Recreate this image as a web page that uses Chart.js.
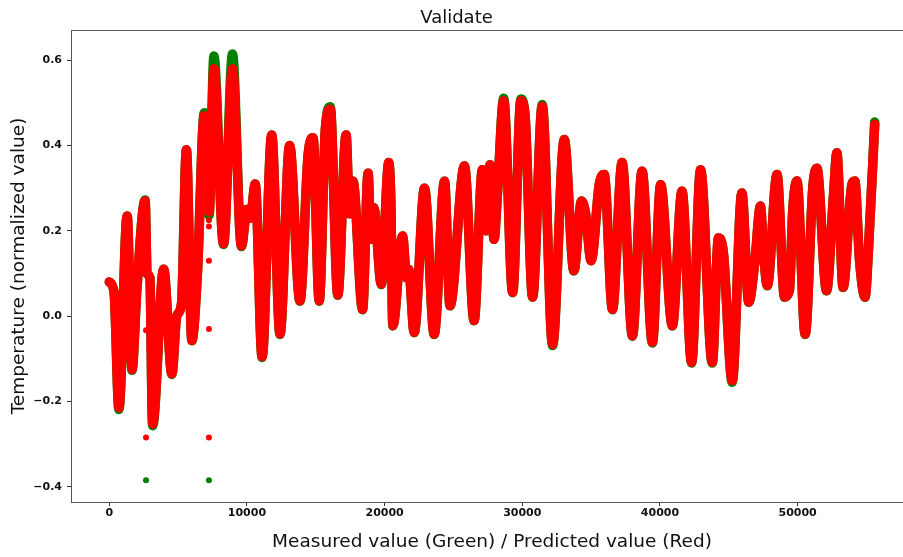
<!DOCTYPE html>
<html>
<head>
<meta charset="utf-8">
<title>Validate</title>
<script src="https://cdn.jsdelivr.net/npm/chart.js@4.4.1/dist/chart.umd.min.js"></script>
<style>
    html, body { margin: 0; padding: 0; background: #fff; overflow: hidden; }
    #wrap { width: 903px; height: 557px; overflow: hidden; }
    canvas { display: block; }
</style>
</head>
<body>
<div id="wrap">
    <canvas id="chart" width="984" height="557"></canvas>
</div>
<script>
// ==========================================
//  Validate - measured vs predicted temperature
// ==========================================

// sample index (x) of the turning points
const sampleIdx = [
    0, 350, 700, 1300, 1650, 2000, 2600, 2750, 2950, 3150,
    3950, 4550, 4900, 5250, 5600, 6000, 6400, 6900, 7250, 7600,
    8300, 8950, 9600, 10000, 10250, 10600, 11100, 11800, 12400, 13100,
    13850, 14450, 14800, 15250, 15700, 16050, 16600, 17200, 17450, 17700,
    18400, 18800, 19000, 19220, 19760, 20300, 20450, 20600, 21300, 21600,
    21750, 22150, 22900, 23600, 24350, 24750, 25800, 26500, 27100, 27350,
    27650, 27950, 28200, 28650, 29300, 29900, 30200, 30750, 31450, 32200,
    33050, 33750, 34300, 34600, 35000, 35600, 35950, 36550, 37250, 38000,
    38700, 39450, 40050, 40900, 41600, 42300, 42950, 43800, 44250, 44600,
    45250, 45950, 46450, 46900, 47300, 47500, 47800, 48500, 49050, 49400,
    49650, 49950, 50550, 51100, 51400, 52100, 52600, 52850, 53300, 53950,
    54150, 54500, 54900, 55150, 55600
];

// measured (green)
const measured = [
    0.08, 0.055, -0.219, 0.235, -0.127, 0.06, 0.272, 0.10, 0.09, -0.257,
    0.11, -0.137, 0.0, 0.03, 0.39, -0.058, 0.10, 0.477, 0.236, 0.61,
    0.168, 0.615, 0.163, 0.25, 0.23, 0.31, -0.097, 0.425, -0.043, 0.40,
    0.035, 0.38, 0.418, 0.035, 0.44, 0.491, 0.049, 0.425, 0.24, 0.316,
    0.015, 0.335, 0.18, 0.254, 0.074, 0.36, 0.27, -0.023, 0.188, 0.09,
    0.11, -0.039, 0.30, -0.043, 0.316, 0.024, 0.352, -0.011, 0.343, 0.20,
    0.355, 0.18, 0.29, 0.511, 0.055, 0.509, 0.47, 0.044, 0.496, -0.069,
    0.414, 0.106, 0.27, 0.24, 0.13, 0.31, 0.332, 0.015, 0.36, -0.047,
    0.34, -0.063, 0.308, -0.023, 0.293, -0.11, 0.343, -0.11, 0.183, 0.15,
    -0.155, 0.289, 0.032, 0.13, 0.258, 0.16, 0.071, 0.332, 0.044, 0.06,
    0.25, 0.317, -0.043, 0.30, 0.347, 0.059, 0.28, 0.383, 0.067, 0.31,
    0.317, 0.13, 0.044, 0.16, 0.455
];

// predicted (red)
const predicted = [
    0.08, 0.055, -0.215, 0.235, -0.125, 0.06, 0.27, 0.10, 0.09, -0.253,
    0.11, -0.135, 0.0, 0.03, 0.39, -0.057, 0.10, 0.47, 0.245, 0.58,
    0.17, 0.58, 0.165, 0.25, 0.23, 0.31, -0.095, 0.425, -0.042, 0.40,
    0.036, 0.38, 0.418, 0.036, 0.44, 0.485, 0.05, 0.425, 0.24, 0.316,
    0.016, 0.335, 0.18, 0.254, 0.075, 0.36, 0.27, -0.022, 0.188, 0.09,
    0.11, -0.038, 0.30, -0.042, 0.316, 0.025, 0.352, -0.01, 0.343, 0.20,
    0.355, 0.18, 0.29, 0.505, 0.056, 0.505, 0.47, 0.045, 0.492, -0.066,
    0.414, 0.107, 0.27, 0.24, 0.13, 0.31, 0.332, 0.016, 0.36, -0.046,
    0.34, -0.061, 0.308, -0.022, 0.293, -0.108, 0.343, -0.108, 0.183, 0.15,
    -0.151, 0.289, 0.033, 0.13, 0.258, 0.16, 0.072, 0.332, 0.045, 0.06,
    0.25, 0.317, -0.042, 0.30, 0.347, 0.06, 0.28, 0.383, 0.068, 0.31,
    0.317, 0.13, 0.045, 0.16, 0.45
];

// isolated samples away from the band
const measuredOutX = [2670, 7240];
const measuredOutY = [-0.385, -0.385];
const predictedOutX = [2670, 2670, 7240, 7240, 7240, 7240, 7240];
const predictedOutY = [-0.285, -0.033, -0.285, -0.03, 0.13, 0.21, 0.225];

// axes
const xTicks = [0, 10000, 20000, 30000, 40000, 50000];
const yTicks = [-0.4, -0.2, 0.0, 0.2, 0.4, 0.6];
const xRange = [-2780, 58380];
const yRange = [-0.436, 0.671];

const GREEN = '#008000';
const RED = '#ff0000';
const FONT = "'DejaVu Sans', 'Liberation Sans', sans-serif";

const toPoints = (xs, ys) => xs.map((x, i) => ({ x: x, y: ys[i] }));

// matplotlib-like box around the plot
const framePlugin = {
    id: 'frame',
    afterDatasetsDraw(chart) {
        const a = chart.chartArea;
        const ctx = chart.ctx;
        ctx.save();
        ctx.strokeStyle = '#555';
        ctx.lineWidth = 1;
        ctx.strokeRect(Math.round(a.left) + 0.5, Math.round(a.top) + 0.5,
            Math.round(a.right - a.left), Math.round(a.bottom - a.top));
        ctx.restore();
    }
};

function bandDataset(label, xs, ys, color) {
    return {
        label: label,
        data: toPoints(xs, ys),
        borderColor: color,
        backgroundColor: color,
        borderWidth: 9.5,
        borderCapStyle: 'round',
        borderJoinStyle: 'round',
        cubicInterpolationMode: 'monotone',
        pointRadius: 0,
        showLine: true,
        fill: false
    };
}

function dotDataset(label, xs, ys, color) {
    return {
        label: label,
        data: toPoints(xs, ys),
        borderColor: color,
        backgroundColor: color,
        pointRadius: 3,
        pointBorderWidth: 0,
        showLine: false
    };
}

const fmtY = v => (v < -1e-9 ? '\u2212' : '') + Math.abs(v).toFixed(1);

new Chart(document.getElementById('chart'), {
    type: 'scatter',
    data: {
        datasets: [
            // first entries are painted on top
            dotDataset('Predicted outliers', predictedOutX, predictedOutY, RED),
            bandDataset('Predicted', sampleIdx, predicted, RED),
            dotDataset('Measured outliers', measuredOutX, measuredOutY, GREEN),
            bandDataset('Measured', sampleIdx, measured, GREEN)
        ]
    },
    options: {
        responsive: false,
        animation: false,
        events: [],
        layout: { padding: { left: 0, right: 71, top: 0, bottom: 0 } },
        plugins: {
            legend: { display: false },
            tooltip: { enabled: false },
            title: {
                display: true,
                text: 'Validate',
                color: '#111',
                font: { family: FONT, size: 18, weight: 'normal', lineHeight: 1.2 },
                padding: { top: 8, bottom: 0.4 }
            }
        },
        scales: {
            x: {
                type: 'linear',
                min: xRange[0],
                max: xRange[1],
                afterBuildTicks: s => { s.ticks = xTicks.map(v => ({ value: v })); },
                afterFit: s => { s.height = 55; },
                border: { display: false },
                grid: { drawOnChartArea: false, drawTicks: true, tickLength: 4, color: '#333' },
                ticks: {
                    autoSkip: false,
                    maxRotation: 0,
                    padding: 1,
                    color: '#111',
                    font: { family: FONT, size: 11, weight: 'bold' },
                    callback: v => String(v)
                },
                title: {
                    display: true,
                    text: 'Measured value (Green) / Predicted value (Red)',
                    color: '#111',
                    font: { family: FONT, size: 18.5 },
                    padding: { top: 0, bottom: 4 }
                }
            },
            y: {
                type: 'linear',
                min: yRange[0],
                max: yRange[1],
                afterBuildTicks: s => { s.ticks = yTicks.map(v => ({ value: v })); },
                afterFit: s => { s.width = 71; },
                border: { display: false },
                grid: { drawOnChartArea: false, drawTicks: true, tickLength: 4, color: '#333' },
                ticks: {
                    autoSkip: false,
                    padding: 5,
                    color: '#111',
                    font: { family: FONT, size: 11, weight: 'bold' },
                    callback: v => fmtY(v)
                },
                title: {
                    display: true,
                    text: 'Temperature (normalized value)',
                    color: '#111',
                    font: { family: FONT, size: 18.5 },
                    padding: { top: 8, bottom: 0 }
                }
            }
        }
    },
    plugins: [framePlugin]
});
</script>
</body>
</html>
